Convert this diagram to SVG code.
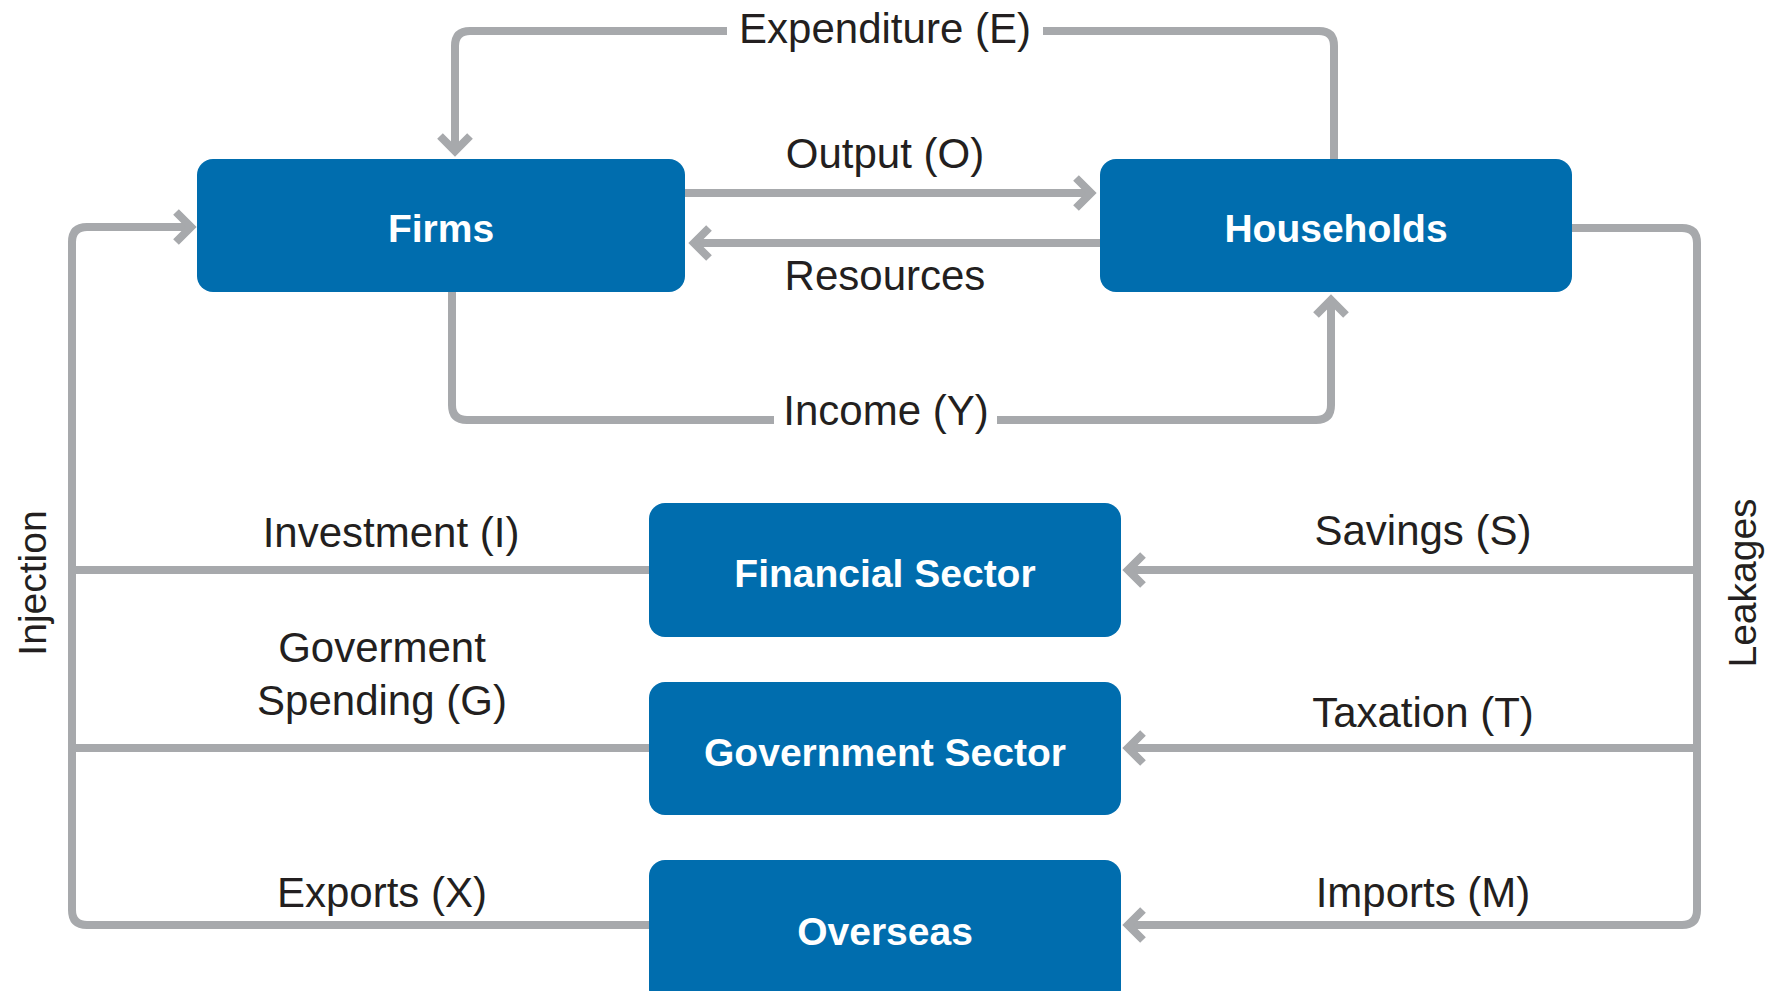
<svg xmlns="http://www.w3.org/2000/svg" width="1776" height="991" viewBox="0 0 1776 991">
<style>
.box{fill:#006dae}
.nl{font-family:"Liberation Sans",Arial,sans-serif;font-weight:bold;font-size:39px;fill:#ffffff;text-anchor:middle}
.lbl{font-family:"Liberation Sans",Arial,sans-serif;font-size:42px;fill:#231f20;text-anchor:middle}
.side{font-family:"Liberation Sans",Arial,sans-serif;font-size:39px;fill:#231f20;text-anchor:middle}
.ln{fill:none;stroke:#a7a9ac;stroke-width:8}
.arr{marker-end:url(#chev)}
</style>
<defs>
<marker id="chev" markerUnits="userSpaceOnUse" viewBox="-30 -20 40 40" markerWidth="40" markerHeight="40" refX="0" refY="0" orient="auto">
<path d="M-15,-15 L0,0 L-15,15" fill="none" stroke="#a7a9ac" stroke-width="8" stroke-linejoin="miter"/>
</marker>
</defs>
<rect width="1776" height="991" fill="#ffffff"/>
<g id="connectors">
<path class="ln" d="M1334,159 V46 Q1334,31 1319,31 H1043"/>
<path class="ln arr" d="M727,31 H470 Q455,31 455,46 V151"/>
<path class="ln arr" d="M685,193 H1091"/>
<path class="ln arr" d="M1100,243 H694"/>
<path class="ln" d="M452,292 V405 Q452,420 467,420 H774"/>
<path class="ln arr" d="M997,420 H1316 Q1331,420 1331,405 V300"/>
<path class="ln arr" d="M1572,228 H1682 Q1697,228 1697,243 V910 Q1697,925 1682,925 H1128"/>
<path class="ln arr" d="M1697,570 H1128"/>
<path class="ln arr" d="M1697,748 H1128"/>
<path class="ln arr" d="M649,925 H87 Q72,925 72,910 V242 Q72,227 87,227 H191"/>
<path class="ln" d="M649,570 H72"/>
<path class="ln" d="M649,748 H72"/>
</g>
<g id="firms"><rect class="box" x="197" y="159" width="488" height="133" rx="16"/><text class="nl" x="441" y="242">Firms</text></g>
<g id="households"><rect class="box" x="1100" y="159" width="472" height="133" rx="16"/><text class="nl" x="1336" y="242">Households</text></g>
<g id="financial"><rect class="box" x="649" y="503" width="472" height="134" rx="16"/><text class="nl" x="885" y="587">Financial Sector</text></g>
<g id="government"><rect class="box" x="649" y="682" width="472" height="133" rx="16"/><text class="nl" x="885" y="766">Government Sector</text></g>
<g id="overseas"><rect class="box" x="649" y="860" width="472" height="145" rx="16"/><text class="nl" x="885" y="945">Overseas</text></g>
<g id="labels">
<text class="lbl" x="885" y="43">Expenditure (E)</text>
<text class="lbl" x="885" y="168">Output (O)</text>
<text class="lbl" x="885" y="290">Resources</text>
<text class="lbl" x="886" y="425">Income (Y)</text>
<text class="lbl" x="391" y="547">Investment (I)</text>
<text class="lbl" x="382" y="662">Goverment</text>
<text class="lbl" x="382" y="715">Spending (G)</text>
<text class="lbl" x="382" y="907">Exports (X)</text>
<text class="lbl" x="1423" y="545">Savings (S)</text>
<text class="lbl" x="1423" y="727">Taxation (T)</text>
<text class="lbl" x="1423" y="907">Imports (M)</text>
<text class="side" transform="translate(46,583) rotate(-90)">Injection</text>
<text class="side" transform="translate(1756,583) rotate(-90)">Leakages</text>
</g>
</svg>
